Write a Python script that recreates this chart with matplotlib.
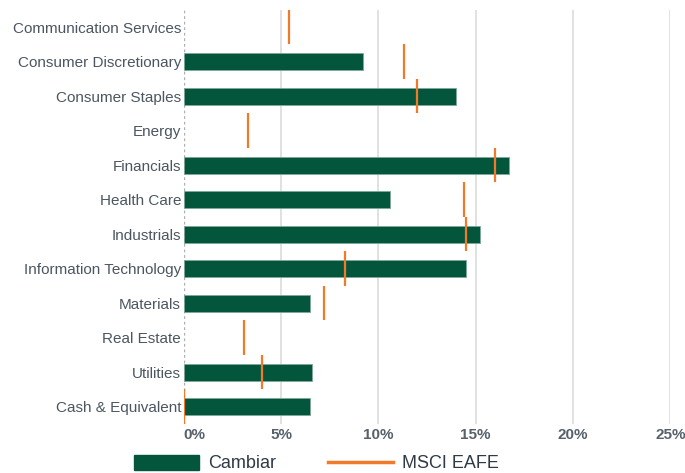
import matplotlib
matplotlib.use("Agg")
import matplotlib.pyplot as plt
from matplotlib.patches import Patch
from matplotlib.lines import Line2D
from matplotlib import font_manager

categories = ["Communication Services", "Consumer Discretionary", "Consumer Staples",
              "Energy", "Financials", "Health Care", "Industrials",
              "Information Technology", "Materials", "Real Estate", "Utilities",
              "Cash & Equivalent"]
cambiar = [0.0, 9.2, 14.0, 0.0, 16.7, 10.6, 15.2, 14.5, 6.5, 0.0, 6.6, 6.5]
msci = [5.4, 11.3, 12.0, 3.3, 16.0, 14.4, 14.5, 8.3, 7.2, 3.1, 4.0, 0.0]
xticks = [0, 5, 10, 15, 20, 25]
xtick_labels = ["0%", "5%", "10%", "15%", "20%", "25%"]

names = {f.name for f in font_manager.fontManager.ttflist}
family = "Liberation Sans Narrow" if "Liberation Sans Narrow" in names else "Liberation Sans"
plt.rcParams["font.family"] = [family, "DejaVu Sans"]

GREEN = "#03553c"
ORANGE = "#f07a2a"
TEXT = "#4b5661"

fig = plt.figure(figsize=(6.85, 4.73), dpi=100)
ax = fig.add_axes([0.2683, 0.1036, 0.9786 - 0.2683, 0.979 - 0.1036])

y = list(range(len(categories)))
edge = ["#7fa898" if v > 0 else "none" for v in cambiar]
ax.barh(y, cambiar, height=0.49, color=GREEN, edgecolor=edge, linewidth=0.6, zorder=3)
for yi, v in zip(y, msci):
    ax.plot([v, v], [yi - 0.5, yi + 0.5], color=ORANGE, lw=1.6, zorder=4, solid_capstyle="butt")

ax.set_ylim(11.5, -0.5)
ax.set_xlim(0, 25)
ax.set_yticks(y)
ax.set_yticklabels(categories, fontsize=11, color=TEXT)
ax.set_xticks(xticks)
labs = ax.set_xticklabels(xtick_labels, fontsize=11, color="#56616b", fontweight="bold")
labs[0].set_horizontalalignment("left")
ax.tick_params(axis="both", length=0, pad=2)
ax.tick_params(axis="x", pad=3)
for s in ax.spines.values():
    s.set_visible(False)
for xv in xticks[1:]:
    ax.axvline(xv, color="#dcdcdc", lw=1.2, zorder=1)
ax.axvline(0, color="#b0b0b0", lw=1.0, ls=(0, (2, 2)), zorder=2)

handles = [Patch(facecolor=GREEN, edgecolor=GREEN), Line2D([], [], color=ORANGE, lw=2.5)]
fig.legend(handles, ["Cambiar", "MSCI EAFE"], loc="center", bbox_to_anchor=(0.462, 0.02),
           ncol=2, frameon=False, fontsize=13, labelcolor="#2f3a45",
           handlelength=3.6, handleheight=0.9, columnspacing=2.9, handletextpad=0.5,
           borderpad=0.1)

fig.savefig("out.png", dpi=100)
